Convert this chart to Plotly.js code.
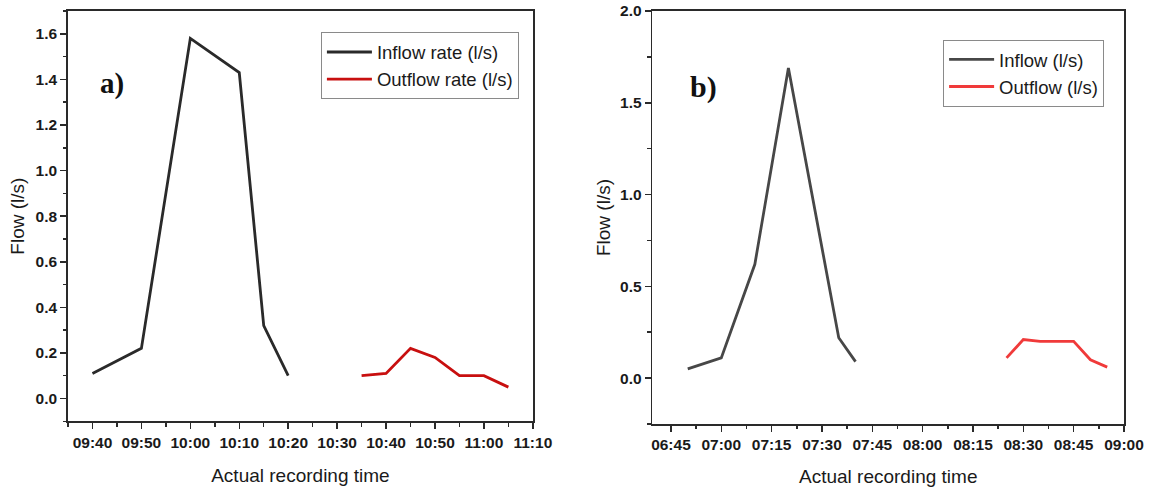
<!DOCTYPE html>
<html>
<head>
<meta charset="utf-8">
<script src="https://cdn.plot.ly/plotly-3.0.1.min.js"></script>
<style>html,body{margin:0;padding:0;background:#fff;}#chart{width:1150px;height:492px;}</style>
</head>
<body>
<div id="chart"></div>
<script>
// Panel a)
const inflowA_time = ['09:40','09:50','10:00','10:10','10:15','10:20'];
const inflowA_flow = [0.11, 0.22, 1.58, 1.43, 0.32, 0.10];
const outflowA_time = ['10:35','10:40','10:45','10:50','10:55','11:00','11:05'];
const outflowA_flow = [0.10, 0.11, 0.22, 0.18, 0.10, 0.10, 0.05];
// Panel b)
const inflowB_time = ['06:50','07:00','07:10','07:20','07:35','07:40'];
const inflowB_flow = [0.05, 0.11, 0.62, 1.69, 0.22, 0.09];
const outflowB_time = ['08:25','08:30','08:35','08:40','08:45','08:50','08:55'];
const outflowB_flow = [0.11, 0.21, 0.20, 0.20, 0.20, 0.10, 0.06];

const day = '2000-01-01 ';
const toDate = arr => arr.map(t => day + t);

const tickFont = {family: 'Liberation Sans, Arial, sans-serif', size: 15.5, weight: 'bold', color: '#1a1a1a'};
const titleFont = {family: 'Liberation Sans, Arial, sans-serif', size: 19, color: '#1a1a1a'};
const legFont = {family: 'Liberation Sans, Arial, sans-serif', size: 18.5, color: '#1a1a1a'};

const traces = [
  {x: toDate(inflowA_time), y: inflowA_flow, name: 'Inflow rate (l/s)', mode: 'lines',
   line: {color: '#2a2a2a', width: 2.8}, xaxis: 'x', yaxis: 'y', legend: 'legend'},
  {x: toDate(outflowA_time), y: outflowA_flow, name: 'Outflow rate (l/s)', mode: 'lines',
   line: {color: '#c80f0f', width: 2.8}, xaxis: 'x', yaxis: 'y', legend: 'legend'},
  {x: toDate(inflowB_time), y: inflowB_flow, name: 'Inflow (l/s)', mode: 'lines',
   line: {color: '#474747', width: 2.8}, xaxis: 'x2', yaxis: 'y2', legend: 'legend2'},
  {x: toDate(outflowB_time), y: outflowB_flow, name: 'Outflow (l/s)', mode: 'lines',
   line: {color: '#f03a3a', width: 2.8}, xaxis: 'x2', yaxis: 'y2', legend: 'legend2'}
];

const axLine = {showline: true, linecolor: '#2a2a2a', linewidth: 1.8, mirror: true,
  showgrid: false, zeroline: false, ticks: 'outside', ticklen: 6, tickwidth: 1.5, tickcolor: '#2a2a2a'};

const layout = {
  width: 1150, height: 492,
  margin: {l: 68, r: 25.7, t: 11, b: 68.3},
  paper_bgcolor: '#fff', plot_bgcolor: '#fff',
  showlegend: true,
  xaxis: Object.assign({}, axLine, {
    type: 'date', domain: [0, 0.4402],
    range: [day + '09:35', day + '11:10'],
    tick0: day + '09:40', dtick: 600000, tickformat: '%H:%M',
    minor: {dtick: 300000, tick0: day + '09:35', ticks: 'outside', ticklen: 3.5, tickwidth: 1.5, tickcolor: '#2a2a2a', showgrid: false},
    tickfont: tickFont,
    title: {text: 'Actual recording time', font: titleFont, standoff: 19},
    anchor: 'y'
  }),
  yaxis: Object.assign({}, axLine, {
    domain: [0.0065, 1],
    range: [-0.1, 1.7], tick0: 0, dtick: 0.2, tickformat: '.1f',
    minor: {dtick: 0.1, tick0: 0, ticks: 'outside', ticklen: 3.5, tickwidth: 1.5, tickcolor: '#2a2a2a', showgrid: false},
    tickfont: tickFont,
    title: {text: 'Flow (l/s)', font: titleFont, standoff: 6},
    anchor: 'x'
  }),
  xaxis2: Object.assign({}, axLine, {
    type: 'date', domain: [0.5535, 1],
    range: [day + '06:39:30', day + '09:00'],
    tick0: day + '06:45', dtick: 900000, tickformat: '%H:%M',
    minor: {dtick: 450000, tick0: day + '06:45', ticks: 'outside', ticklen: 3.5, tickwidth: 1.5, tickcolor: '#2a2a2a', showgrid: false},
    tickfont: tickFont,
    title: {text: 'Actual recording time', font: titleFont, standoff: 17},
    anchor: 'y2'
  }),
  yaxis2: Object.assign({}, axLine, {
    domain: [0, 1],
    range: [-0.25, 2.0], tick0: 0, dtick: 0.5, tickformat: '.1f',
    minor: {dtick: 0.25, tick0: 0, ticks: 'outside', ticklen: 3.5, tickwidth: 1.5, tickcolor: '#2a2a2a', showgrid: false},
    tickfont: tickFont,
    title: {text: 'Flow (l/s)', font: titleFont, standoff: 4},
    anchor: 'x2'
  }),
  legend: {x: 0.2395, y: 0.948, xanchor: 'left', yanchor: 'top',
    bgcolor: '#fff', bordercolor: '#8a8a8a', borderwidth: 1, font: legFont,
    itemwidth: 45, tracegroupgap: 0},
  legend2: {x: 0.8287, y: 0.93, xanchor: 'left', yanchor: 'top',
    bgcolor: '#fff', bordercolor: '#8a8a8a', borderwidth: 1, font: legFont,
    itemwidth: 45, tracegroupgap: 0},
  annotations: [
    {text: '<b>a)</b>', xref: 'x domain', yref: 'y domain', x: 0.0946, y: 0.824,
     xanchor: 'center', yanchor: 'middle',
     showarrow: false, font: {family: 'Liberation Serif, Times New Roman, serif', size: 29, color: '#111'}},
    {text: '<b>b)</b>', xref: 'x2 domain', yref: 'y2 domain', x: 0.109, y: 0.816,
     xanchor: 'center', yanchor: 'middle',
     showarrow: false, font: {family: 'Liberation Serif, Times New Roman, serif', size: 30, color: '#111'}}
  ]
};

Plotly.newPlot('chart', traces, layout, {displayModeBar: false, staticPlot: true});
</script>
</body>
</html>
